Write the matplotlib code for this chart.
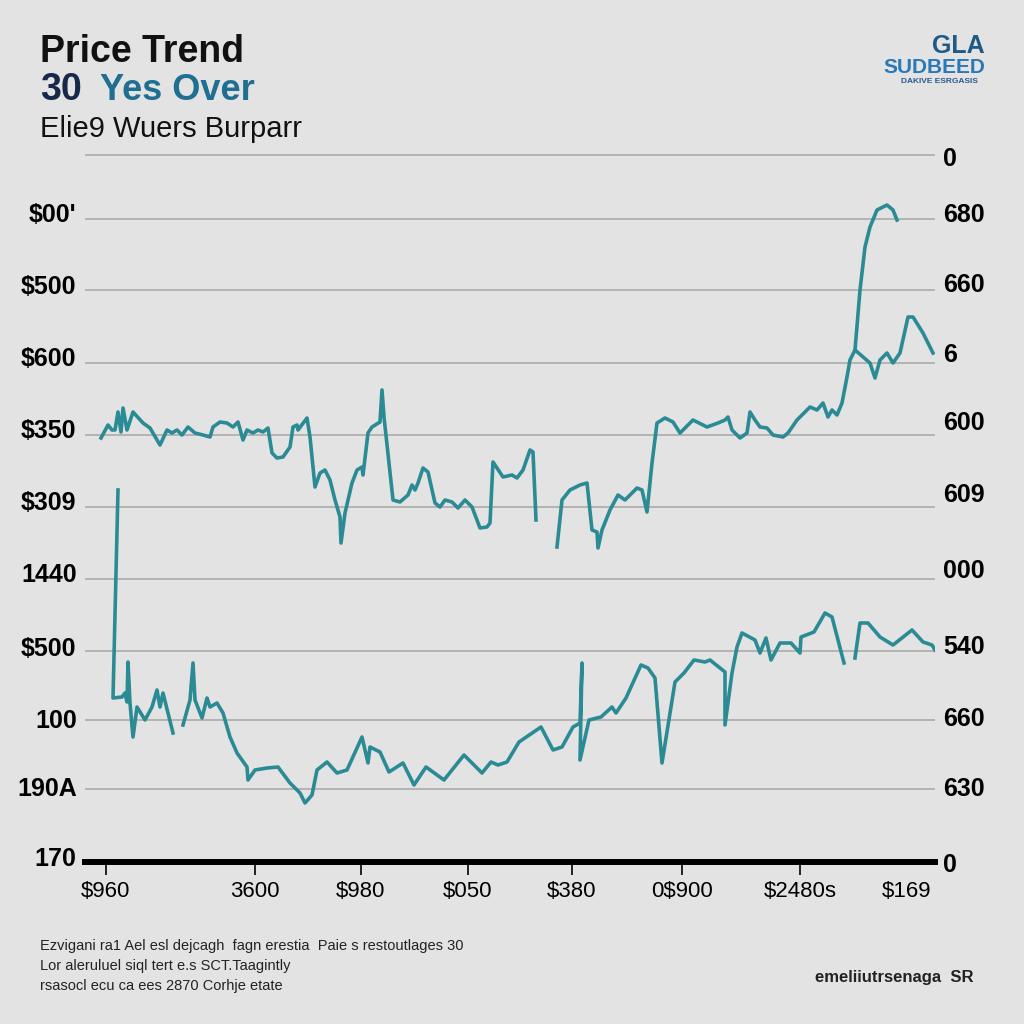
import numpy as np
import matplotlib
matplotlib.use("Agg")
import matplotlib.pyplot as plt

plt.rcParams['font.family'] = ['Liberation Sans', 'DejaVu Sans']

# upper series (time position, price level)
upper_t = [101, 108, 112, 115, 118, 121, 123, 127, 133, 143, 150, 160, 167, 172, 177, 182, 188, 195,
           203, 210, 213, 220, 227, 233, 238, 243, 247, 253, 258, 263, 268, 272, 277, 283, 290, 293,
           297, 298, 307, 310, 315, 320, 325, 330, 335, 340, 341, 345, 352, 357, 362, 363, 368, 372,
           380, 382, 384, 393, 400, 408, 412, 415, 418, 423, 428, 435, 440, 445, 452, 458, 465, 472,
           480, 487, 490, 493, 497, 503, 512, 517, 523, 530, 533, 536, np.nan,
           557, 562, 570, 580, 587, 592, 597, 598, 602, 610, 618, 625, 632, 637, 642, 647, 652, 657,
           665, 673, 680, 693, 707, 718, 725, 728, 732, 740, 747, 750, 755, 760, 767, 773, 783, 788,
           797, 810, 817, 823, 828, 832, 837, 842, 847, 850, 855, 863, 870, 875, 880, 887, 893, 900,
           908, 913, 923, 933]
upper_v = [424, 437, 432, 432, 450, 430, 454, 432, 450, 439, 434, 417, 432, 429, 432, 427, 435, 429,
           427, 425, 435, 440, 439, 435, 440, 422, 432, 429, 432, 430, 434, 409, 404, 405, 415, 435,
           437, 432, 444, 425, 375, 389, 392, 382, 362, 345, 319, 349, 379, 392, 395, 387, 429, 435,
           440, 472, 445, 362, 360, 367, 377, 372, 379, 394, 390, 359, 355, 362, 360, 354, 362, 355,
           334, 335, 339, 400, 394, 385, 387, 384, 392, 412, 410, 342, np.nan,
           315, 362, 372, 377, 379, 332, 330, 314, 332, 352, 367, 362, 369, 374, 372, 350, 399, 439,
           444, 440, 429, 442, 435, 439, 442, 445, 432, 424, 429, 450, 442, 435, 434, 427, 425, 429,
           442, 455, 452, 459, 445, 452, 447, 459, 485, 502, 512, 505, 499, 484, 502, 509, 499, 509,
           545, 545, 529, 509]

# late spike branching off the upper series
spike_t = [855, 860, 865, 870, 877, 887, 893, 897]
spike_v = [512, 572, 615, 635, 652, 657, 652, 642]

# lower series
lower_t = [118, 113, 122, 125, 127, 128, 130, 133, 137, 145, 152, 157, 160, 163, 168, 173, np.nan,
           183, 190, 193, 195, 202, 207, 210, 217, 223, 230, 237, 247, 248, 255, 267, 278, 290, 300,
           305, 312, 317, 327, 337, 347, 362, 368, 370, 380, 389, 403, 414, 426, 444, 464, 482, 491,
           498, 507, 519, 541, 553, 562, 573, 580, 582, 580, 589, 601, 612, 616, 626, 641, 648, 655,
           662, 675, 684, 694, 705, 710, 725, 725, 732, 737, 742, 755, 760, 766, 771, 780, 791, 800,
           801, 814, 825, 832, 844, np.nan,
           855, 860, 868, 880, 893, 912, 923, 932, 935]
lower_v = [372, 164, 165, 169, 160, 200, 159, 125, 155, 142, 155, 172, 155, 169, 149, 129, np.nan,
           137, 162, 199, 162, 144, 164, 155, 159, 149, 125, 109, 95, 82, 92, 94, 95, 79, 69,
           59, 67, 92, 100, 89, 92, 125, 99, 115, 110, 90, 99, 77, 95, 82, 107, 89, 100,
           97, 100, 120, 135, 112, 115, 135, 139, 199, 102, 142, 145, 155, 149, 164, 197, 194, 184,
           99, 180, 189, 202, 200, 202, 190, 137, 189, 215, 229, 222, 209, 224, 202, 219, 219, 209,
           225, 230, 249, 245, 199, np.nan,
           204, 239, 239, 225, 217, 232, 220, 217, 212]

grid_levels = [73, 142, 211, 283, 355, 427, 499, 572, 643, 707]

left_pos = [5, 76, 144, 216, 290, 362, 434, 506, 578, 649]
left_labels = ["170", "190A", "100", "$500", "1440", "$309", "$350", "$600", "$500", "$00'"]

right_pos = [0, 76, 146, 217, 294, 369, 442, 509, 579, 649, 705]
right_labels = ["0", "630", "660", "540", "000", "609", "600", "6", "660", "680", "0"]

x_pos = [106, 255, 361, 468, 572, 682, 800, 907]
x_labels = ["$960", "3600", "$980", "$050", "$380", "0$900", "$2480s", "$169"]

footnote = ["Ezvigani ra1 Ael esl dejcagh  fagn erestia  Paie s restoutlages 30",
            "Lor aleruluel siql tert e.s SCT.Taagintly",
            "rsasocl ecu ca ees 2870 Corhje etate"]

bg = '#e3e3e3'
teal = '#2b8b95'

fig = plt.figure(figsize=(10.24, 10.24), dpi=100, facecolor=bg)
ax = fig.add_axes([85 / 1024, 162 / 1024, 850 / 1024, 710 / 1024])
ax.set_facecolor(bg)
ax.set_xlim(85, 935)
ax.set_ylim(0, 710)

for g in grid_levels:
    ax.axhline(g, color='#a6a6a6', lw=1.1, zorder=1)

ax.plot(upper_t, upper_v, color=teal, lw=2.6, solid_joinstyle='round', zorder=3)
ax.plot(spike_t, spike_v, color=teal, lw=2.6, solid_joinstyle='round', zorder=3)
ax.plot(lower_t, lower_v, color=teal, lw=2.6, solid_joinstyle='round', zorder=3)

for s in ['top', 'left', 'right']:
    ax.spines[s].set_visible(False)
ax.spines['bottom'].set_linewidth(4.3)
ax.spines['bottom'].set_color('black')

ax.set_xticks(x_pos)
ax.set_xticklabels(x_labels, fontsize=16)
ax.tick_params(axis='x', length=9, width=1.2, pad=5, colors='black')
ax.xaxis.get_major_ticks()[-1].tick1line.set_visible(False)

ax.set_yticks(left_pos)
ax.set_yticklabels(left_labels, fontsize=18, fontweight='bold')
ax.tick_params(axis='y', length=0, pad=6)

ax2 = ax.twinx()
ax2.set_ylim(0, 710)
ax2.set_yticks(right_pos)
ax2.set_yticklabels(right_labels, fontsize=18, fontweight='bold')
ax2.tick_params(axis='y', length=0, pad=6)
for s in ['top', 'left', 'right', 'bottom']:
    ax2.spines[s].set_visible(False)

# title block
fig.text(40 / 1024, 1 - 62 / 1024, "Price Trend", fontsize=27, fontweight='bold', color='#111111')
fig.text(40 / 1024, 1 - 100 / 1024, "30", fontsize=27, fontweight='bold', color='#16294a')
fig.text(100 / 1024, 1 - 100 / 1024, "Yes Over", fontsize=26, fontweight='bold', color='#1f6f93')
fig.text(40 / 1024, 1 - 137 / 1024, "Elie9 Wuers Burparr", fontsize=21, color='#111111')

# logo
fig.text(985 / 1024, 1 - 53 / 1024, "GLA", fontsize=18, fontweight='bold', color='#1d5a86', ha='right')
fig.text(985 / 1024, 1 - 73 / 1024, "SUDBEED", fontsize=15, fontweight='bold', color='#2a78b8', ha='right')
fig.text(978 / 1024, 1 - 83 / 1024, "DAKIVE ESRGASIS", fontsize=6, fontweight='bold', color='#2a5a90', ha='right')

# footnote
for i, line in enumerate(footnote):
    fig.text(40 / 1024, 1 - (950 + i * 20) / 1024, line, fontsize=10.5, color='#222222')
fig.text(815 / 1024, 1 - 982 / 1024, "emeliiutrsenaga  SR", fontsize=12, fontweight='bold', color='#222222')

fig.savefig("out.png", dpi=100, facecolor=bg)
